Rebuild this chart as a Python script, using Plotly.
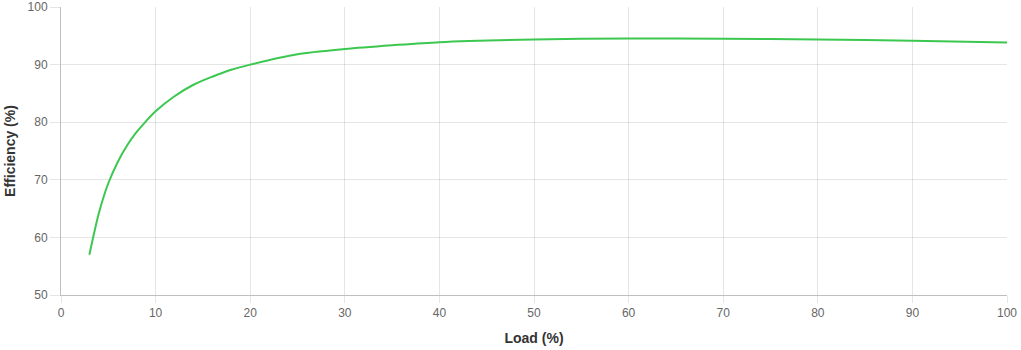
import plotly.graph_objects as go

load = [3, 4, 5, 6, 7, 8, 9, 10, 12, 14, 16, 18, 20, 25, 30, 35, 40, 50, 60, 70, 80, 90, 100]
efficiency = [57.0, 64.2, 69.4, 73.1, 76.0, 78.3, 80.2, 81.9, 84.5, 86.5, 87.9, 89.1, 90.0,
              91.8, 92.7, 93.35, 93.9, 94.36, 94.53, 94.47, 94.36, 94.13, 93.85]

x_ticks = [0, 10, 20, 30, 40, 50, 60, 70, 80, 90, 100]
y_ticks = [50, 60, 70, 80, 90, 100]

fig = go.Figure()
fig.add_trace(go.Scatter(
    x=load, y=efficiency, mode="lines",
    line=dict(color="rgb(60,200,80)", width=2, shape="spline", smoothing=0.8),
    hoverinfo="x+y", showlegend=False,
))

grid = "rgba(0,0,0,0.1)"
fig.update_layout(
    width=1021, height=350,
    margin=dict(l=61, r=14, t=7, b=55),
    paper_bgcolor="white", plot_bgcolor="white",
    font=dict(family="Liberation Sans, Arial, Helvetica, sans-serif", size=12, color="#666"),
    xaxis=dict(
        range=[0, 100], tickvals=x_ticks, ticktext=[str(v) for v in x_ticks],
        showgrid=True, gridcolor=grid, gridwidth=1, automargin=False,
        zeroline=False, showline=True, linecolor="rgba(0,0,0,0.25)", linewidth=1,
        ticks="outside", ticklen=7, tickcolor=grid, tickwidth=1,
        title=dict(text="<b>Load (%)</b>", font=dict(size=14, color="#333"), standoff=13),
    ),
    yaxis=dict(
        range=[50, 100], tickvals=y_ticks, ticktext=[str(v) for v in y_ticks],
        showgrid=True, gridcolor=grid, gridwidth=1, automargin=False,
        zeroline=False, showline=True, linecolor="rgba(0,0,0,0.25)", linewidth=1,
        ticks="outside", ticklen=10, tickcolor=grid, tickwidth=1,
        title=dict(text="<b>Efficiency (%)</b>", font=dict(size=14, color="#333"), standoff=8),
    ),
)

fig.write_html("out.html")
